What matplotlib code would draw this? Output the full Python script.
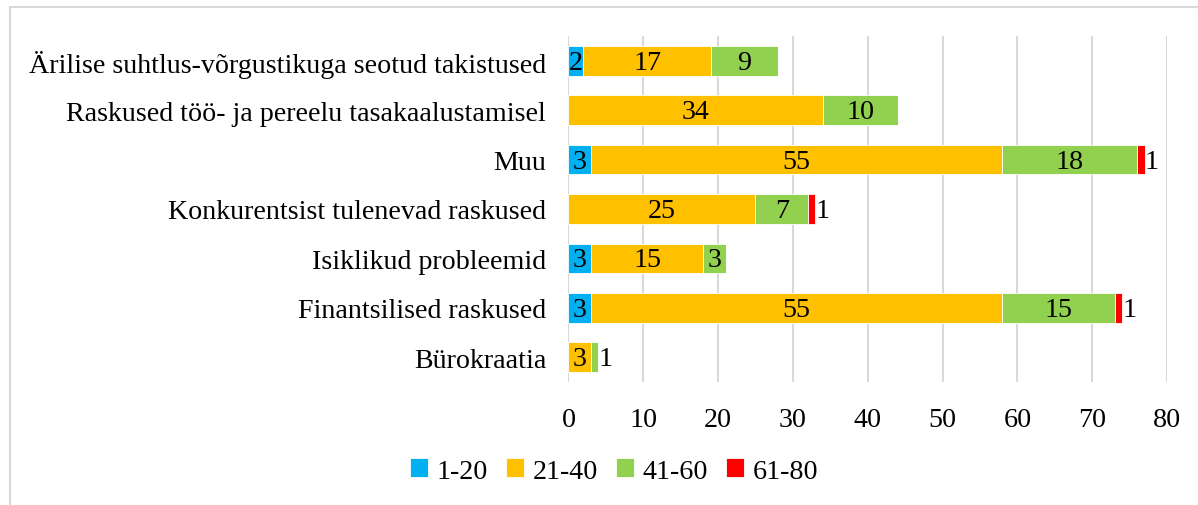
import numpy as np
import matplotlib
matplotlib.use("Agg")
import matplotlib.pyplot as plt
from matplotlib.patches import Rectangle

plt.rcParams["font.family"] = ["Liberation Serif", "DejaVu Serif"]

# categories listed bottom -> top (as Excel draws them)
categories = [
    "Bürokraatia",
    "Finantsilised raskused",
    "Isiklikud probleemid",
    "Konkurentsist tulenevad raskused",
    "Muu",
    "Raskused töö- ja pereelu tasakaalustamisel",
    "Ärilise suhtlus-võrgustikuga seotud takistused",
]
series_names = ["1-20", "21-40", "41-60", "61-80"]
s_1_20 = [0, 3, 3, 0, 3, 0, 2]
s_21_40 = [3, 55, 15, 25, 55, 34, 17]
s_41_60 = [1, 15, 3, 7, 18, 10, 9]
s_61_80 = [0, 1, 0, 1, 1, 0, 0]
colors = ["#00B0F0", "#FFC000", "#92D050", "#FF0000"]
x_ticks = [0, 10, 20, 30, 40, 50, 60, 70, 80]

FS = 20.2

fig = plt.figure(figsize=(11.98, 5.06), dpi=100)
ax = fig.add_axes([0.4745, 0.2431, 0.4996, 0.6838])

# light gray chart-area frame (runs off the right/bottom edge)
fig.patches.append(Rectangle((10 / 1198, -0.05), 1.2, 1 - 8 / 506 + 0.05,
                             transform=fig.transFigure, fill=False,
                             edgecolor="#D9D9D9", linewidth=1.5, zorder=0))

y = np.arange(len(categories))
left = np.zeros(len(categories))
for name, vals, col in zip(series_names, [s_1_20, s_21_40, s_41_60, s_61_80], colors):
    vals = np.array(vals, dtype=float)
    ax.barh(y, vals, left=left, height=0.6, color=col, edgecolor="white",
            linewidth=0.6, label=name, zorder=3)
    for yi, l, v in zip(y, left, vals):
        if v <= 0:
            continue
        if v < 2:
            ax.text(l + v + 0.05, yi - 0.03, f"{int(v)}", ha="left", va="center",
                    fontsize=FS, zorder=4)
        else:
            ax.text(l + v / 2, yi - 0.03, f"{int(v)}", ha="center", va="center",
                    fontsize=FS, zorder=4)
    left += vals

ax.set_xlim(0, 80)
ax.set_ylim(-0.5, len(categories) - 0.5)
ax.set_xticks(x_ticks)
ax.set_xticklabels([str(t) for t in x_ticks], fontsize=FS)
ax.set_yticks(y)
ax.set_yticklabels(categories, fontsize=FS)
ax.tick_params(axis="both", length=0)
ax.tick_params(axis="x", pad=18)
ax.tick_params(axis="y", pad=16)
ax.grid(axis="x", color="#D9D9D9", linewidth=1.5, zorder=0)
ax.set_axisbelow(True)
for s in ax.spines.values():
    s.set_visible(False)

handles, labels = ax.get_legend_handles_labels()
fig.legend(handles, labels, loc="center", bbox_to_anchor=(0.5125, 0.067),
           ncol=4, frameon=False, fontsize=FS, handlelength=0.65,
           handleheight=0.65, handletextpad=0.3, columnspacing=0.65)

fig.savefig("out.png", dpi=100)
